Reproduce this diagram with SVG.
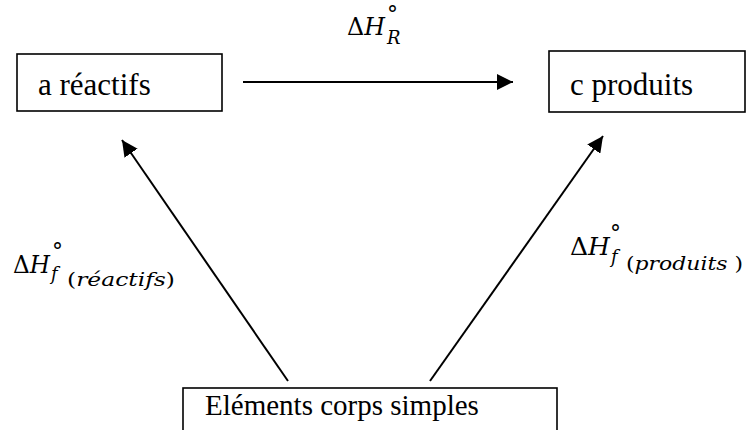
<svg xmlns="http://www.w3.org/2000/svg" width="751" height="430" viewBox="0 0 751 430">
<defs>
<style>
.box{fill:#fff;stroke:#000;stroke-width:1.6}
.t{font-family:"Liberation Serif","Times New Roman",serif;font-size:29px;fill:#000}
.tb{font-size:31px}
.m{font-family:"DejaVu Serif",serif;font-size:24px;fill:#000}
.s{font-family:"DejaVu Serif",serif;font-size:18px;fill:#000}
.deg{font-family:"DejaVu Serif",serif;font-size:22px;fill:#000}
.i{font-style:italic}
.c{fill:none;stroke:#000;stroke-width:2}
</style>
<marker id="ah" markerUnits="userSpaceOnUse" markerWidth="18" markerHeight="16" refX="16" refY="8" orient="auto">
<path d="M0,0 L16,8 L0,16 Z" fill="#000"/>
</marker>
</defs>
<rect width="751" height="430" fill="#fff"/>
<g id="connectors">
<line class="c" x1="243" y1="82" x2="513" y2="82" marker-end="url(#ah)"/>
<line class="c" x1="288" y1="381" x2="122" y2="140" marker-end="url(#ah)"/>
<line class="c" x1="430" y1="381" x2="603" y2="136" marker-end="url(#ah)"/>
</g>
<g id="reactifs">
<rect class="box" x="17" y="54" width="205" height="57"/>
<text class="t tb" x="38" y="95">a réactifs</text>
</g>
<g id="produits">
<rect class="box" x="549" y="51" width="196" height="61"/>
<text class="t tb" x="570" y="95">c produits</text>
</g>
<g id="elements">
<rect class="box" x="183" y="388" width="374" height="50"/>
<text class="t" x="205" y="415">Eléments corps simples</text>
</g>
<g id="label-R">
<text class="m" x="347" y="35" textLength="38" lengthAdjust="spacingAndGlyphs">Δ<tspan class="i">H</tspan></text>
<text class="s i" x="387" y="44">R</text>
<text class="deg" x="387" y="22">°</text>
</g>
<g id="label-freactifs">
<text class="m" x="13" y="273" textLength="37" lengthAdjust="spacingAndGlyphs">Δ<tspan class="i">H</tspan></text>
<text class="s i" x="51" y="280">f</text>
<text class="s" x="67" y="286" textLength="108" lengthAdjust="spacingAndGlyphs">(<tspan class="i">réactifs</tspan>)</text>
<text class="deg" x="52" y="259">°</text>
</g>
<g id="label-fproduits">
<text class="m" x="570" y="255" textLength="40" lengthAdjust="spacingAndGlyphs">Δ<tspan class="i">H</tspan></text>
<text class="s i" x="611" y="263">f</text>
<text class="s" x="626" y="270" textLength="117" lengthAdjust="spacingAndGlyphs">(<tspan class="i">produits </tspan>)</text>
<text class="deg" x="610" y="241">°</text>
</g>
</svg>
